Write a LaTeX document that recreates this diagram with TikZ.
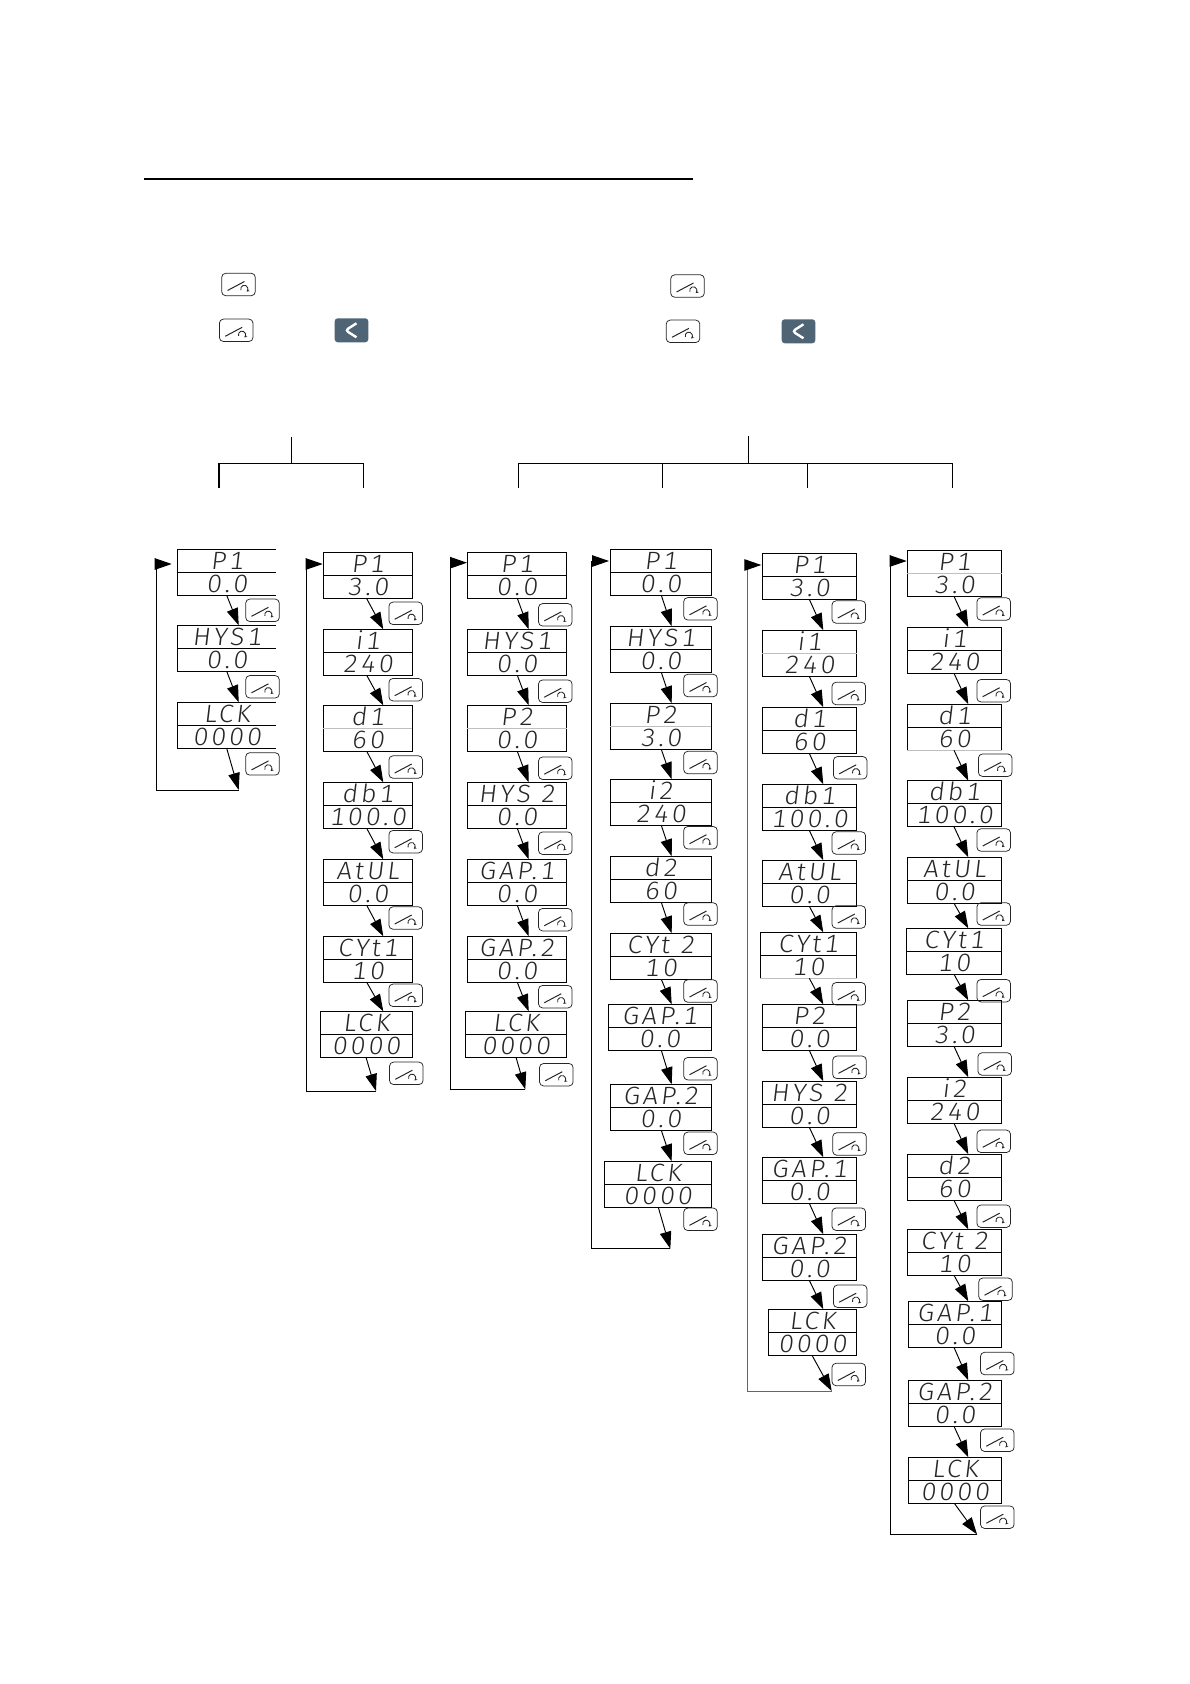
\documentclass[tikz,border=0pt]{standalone}
\usepackage{fontspec}
\newfontfamily\lcdfont[FakeSlant=0.12,FakeStretch=1.06,LetterSpace=12,Numbers=Monospaced]{Fira Sans Light}
\usepackage{xcolor}
\usetikzlibrary{arrows.meta,positioning}
\definecolor{keyslate}{HTML}{4F6475}
\tikzset{
  lcd/.style={draw, line width=0.85pt, inner sep=0pt, outer sep=0pt, minimum width=#1pt, minimum height=23pt,
    text height=17.2pt, text depth=0pt, text=black!85, font=\lcdfont\fontsize{25}{25}\selectfont},
  flow/.style={line width=0.95pt, -{Triangle[length=17pt,width=11.5pt]}},
  back/.style={line width=0.95pt},
  keybox/.style={draw=black!85, line width=0.75pt, rounded corners=4pt, inner sep=0pt,
    minimum width=33.6pt, minimum height=22.4pt,
    path picture={
      \draw[line width=1pt] ([shift={(-11pt,-6pt)}]path picture bounding box.center) -- +(17pt,9pt);
      \draw[line width=0.85pt,-{Stealth[length=2.8pt,width=3pt]}] ([shift={(2.4pt,-5.6pt)}]path picture bounding box.center)
        arc (200:-50:3.6pt);
    }},
  leftkey/.style={fill=keyslate, rounded corners=3pt, inner sep=0pt,
    minimum width=33.6pt, minimum height=24pt,
    path picture={
      \draw[white, line width=2.4pt] ([shift={(5pt,7pt)}]path picture bounding box.center)
        -- ([shift={(-6pt,0pt)}]path picture bounding box.center)
        -- ([shift={(5pt,-7pt)}]path picture bounding box.center);
    }},
  tree/.style={line width=0.8pt},
  treethick/.style={line width=1.5pt}
}
\begin{document}
\begin{tikzpicture}[x=1pt,y=-1pt]
\useasboundingbox (0,0) rectangle (1190,1684);
% heading rule
\coordinate (ruleL) at (144,179.4);
\coordinate (ruleR) at (693,179.4);
\draw[line width=2pt] (ruleL) -- (ruleR);
% keys in the legend
\node[keybox] (legA) at (238.5,284.5) {};
\node[keybox] (legB) at (687.5,286) {};
\node[keybox] (legC) at (236.2,330.3) {};
\node[leftkey] (legD) at (351.5,330.3) {};
\node[keybox] (legE) at (683,331.3) {};
\node[leftkey] (legF) at (798.5,331.3) {};
% brackets over the columns
\coordinate (lStem) at (291,437);
\coordinate (lJoin) at (291,463);
\coordinate (rStem) at (748.6,436);
\coordinate (rJoin) at (748.6,463);
\draw[tree] (lStem) -- (lJoin);
\draw[treethick] (rStem) -- (rJoin);
\draw[tree] (219,463) -- (363,463);
\draw[tree] (518.7,463) -- (952.6,463);
\foreach \x/\w in {219/treethick,363/tree,518.7/tree,662.7/tree,807.6/treethick,952.6/treethick}
  \draw[\w] (\x,463) -- (\x,487.6);
% displays: name/left/right/top/upper text/lower text
\foreach \name/\xa/\xb/\ytop/\txta/\txtb in {
  A1/177.3/276.7/549.3/P1/0.0, A2/177.3/276.7/625.3/HYS1/0.0, A3/177.3/276.7/702.3/LCK/0000,
  B1/323.3/412.3/552.7/P1/3.0, B2/323.3/412.3/629.3/i1/240, B3/323.3/412.3/705.3/d1/60,
  B4/323.3/412.3/782.3/db1/100.0, B5/323.3/412.3/859.3/AtUL/0.0, B6/323.3/412.3/936.3/CYt1/10,
  B7/320.3/412.3/1011.3/LCK/0000,
  C1/467.3/566.7/552.3/P1/0.0, C2/467.3/566.7/629.3/HYS1/0.0, C3/467.3/566.7/705.3/P2/0.0,
  C4/467.3/566.7/782.3/HYS 2/0.0, C5/467.3/566.7/859.3/GAP.1/0.0, C6/467.3/566.7/936.3/GAP.2/0.0,
  C7/465.3/566.7/1011.3/LCK/0000,
  D1/610.3/711.3/549.3/P1/0.0, D2/610.3/711.3/626.3/HYS1/0.0, D3/610.3/711.3/703.3/P2/3.0,
  D4/610.3/711.3/779.3/i2/240, D5/610.3/711.3/856.3/d2/60, D6/610.3/711.3/933.3/CYt 2/10,
  D7/608.3/711.3/1004.3/GAP.1/0.0, D8/610.3/711.3/1084.3/GAP.2/0.0, D9/604.3/711.3/1161.3/LCK/0000,
  E1/762.3/856.7/553.3/P1/3.0, E2/762.3/856.7/630.3/i1/240, E3/762.3/856.7/707.3/d1/60,
  E4/762.3/856.7/784.3/db1/100.0, E5/762.3/856.7/860.3/AtUL/0.0, E6/760/856.7/932.3/CYt1/10,
  E7/762.3/856.7/1004.3/P2/0.0, E8/762.3/856.7/1081.3/HYS 2/0.0, E9/762.3/856.7/1157.3/GAP.1/0.0,
  E10/762.3/856.7/1234.3/GAP.2/0.0, E11/768.3/856.7/1309.3/LCK/0000,
  F1/907.3/1001.7/550.3/P1/3.0, F2/907.3/1001.7/627.3/i1/240, F3/907.3/1001.7/704.3/d1/60,
  F4/907.3/1001.7/780.7/db1/100.0, F5/907.3/1001.7/857.3/AtUL/0.0, F6/906.3/1001.7/928.3/CYt1/10,
  F7/907.3/1001.7/1000.3/P2/3.0, F8/907.3/1001.7/1077.3/i2/240, F9/907.3/1001.7/1154.3/d2/60,
  F10/907.3/1001.7/1229.3/CYt 2/10, F11/908.3/1001.7/1301.3/GAP.1/0.0, F12/908.3/1001.7/1380.3/GAP.2/0.0,
  F13/908.3/1001.7/1457.3/LCK/0000} {
  \pgfmathsetmacro{\wid}{\xb-\xa}
  \node[lcd=\wid, anchor=north west] (\name t) at (\xa,\ytop) {\txta};
  \node[lcd=\wid, anchor=north west] (\name b) at (\name t.south west) {\txtb};
}
% first column has no right edge
\foreach \name in {A1,A2,A3}
  \draw[white, line width=2pt] ([yshift=2pt]\name t.north east) -- ([yshift=-2pt]\name b.south east);
% pale divider lines
\foreach \name in {B3,C3,D3,E2,F1} {
  \draw[white, line width=1.4pt] (\name t.south west) ++(1pt,0) -- ([xshift=-1pt]\name t.south east);
  \draw[black!25, line width=0.5pt] (\name t.south west) -- (\name t.south east);
}
\foreach \name in {F3,E6} {
  \draw[white, line width=1.4pt] (\name b.south west) -- (\name b.south east);
  \draw[black!25, line width=0.5pt] (\name b.south west) -- (\name b.south east);
}
% keys next to the displays
\foreach \name/\x/\y in {
  A1/262.5/610.3, A2/262.5/686.8, A3/262.5/763.9,
  B1/405.7/613.3, B2/405.7/689.7, B3/405.7/767, B4/405.7/841.7, B5/405.7/918, B6/405.7/995.3, B7/406.3/1073.3,
  C1/555.3/614.8, C2/555.3/691.2, C3/555.3/768.2, C4/555.3/843.2, C5/555.3/919.7, C6/555.3/996.7, C7/556.3/1074.7,
  D1/700.5/608.8, D2/700.5/685.5, D3/700.5/762.5, D4/700.5/837.7, D5/700.5/914, D6/700.5/991,
  D7/700.5/1068.7, D8/700.5/1143.3, D9/700.5/1219.3,
  E1/848.8/612, E2/848.8/693.5, E3/850.2/767.8, E4/848.8/843, E5/848.8/917, E6/848.8/993.8,
  E7/849.5/1067.3, E8/849.5/1144, E9/848.8/1219.2, E10/850.2/1296.2, E11/848.8/1374.5,
  F1/993.7/609, F2/993.7/690.7, F3/995.2/765.2, F4/993.7/840, F5/993.7/914, F6/993.7/990.7,
  F7/994.7/1064, F8/993.7/1141.3, F9/993.7/1216.2, F10/995.5/1289.2, F11/997.3/1363.5,
  F12/997.3/1440.2, F13/997.3/1517.2} {
  \node[keybox] (\name k) at (\x,\y) {};
}
% arrows inside the columns
\foreach \p/\q in {A1/A2,A2/A3}
  \draw[flow] ([xshift=-50pt]\p b.south east) -- ([xshift=-38pt]\q t.north east);
\foreach \p/\q in {B1/B2,B2/B3,B3/B4,B4/B5,B5/B6,B6/B7}
  \draw[flow] ([xshift=-45.6pt]\p b.south east) -- ([xshift=-29pt]\q t.north east);
\foreach \p/\q in {C1/C2,C2/C3,C3/C4,C4/C5,C5/C6,C6/C7}
  \draw[flow] ([xshift=-49.4pt]\p b.south east) -- ([xshift=-38pt]\q t.north east);
\foreach \p/\q in {D1/D2,D2/D3,D3/D4,D4/D5,D5/D6,D6/D7,D7/D8,D8/D9}
  \draw[flow] ([xshift=-50pt]\p b.south east) -- ([xshift=-39.6pt]\q t.north east);
\foreach \p/\q in {E1/E2,E2/E3,E3/E4,E4/E5,E5/E6,E6/E7,E7/E8,E8/E9,E9/E10,E10/E11}
  \draw[flow] ([xshift=-47.4pt]\p b.south east) -- ([xshift=-33.4pt]\q t.north east);
\foreach \p/\q in {F1/F2,F2/F3,F3/F4,F4/F5,F5/F6,F6/F7,F7/F8,F8/F9,F9/F10,F10/F11,F11/F12,F12/F13}
  \draw[flow] ([xshift=-47.7pt]\p b.south east) -- ([xshift=-33.4pt]\q t.north east);
% way back to the top of each column
\foreach \c/\last/\off/\endx/\endy/\leftx/\topy/\tipx/\shade in {
  A/A3/50/238.7/790/156.3/564/171.7/black,
  B/B7/46.3/376/1091/306.3/564/322.7/black,
  C/C7/50.7/525.3/1089.3/450.3/562.7/467/black,
  D/D9/53/670.3/1248.7/591.5/561/609/black,
  E/E11/44.7/831.7/1391/747.5/565/761.3/black!60,
  F/F13/47.4/977/1534.3/890.7/561/906.7/black} {
  \coordinate (\c turn) at (\endx,\endy);
  \coordinate (\c side) at (\leftx,\endy);
  \coordinate (\c rise) at (\leftx,\topy);
  \coordinate (\c tip) at (\tipx,\topy);
  \draw[back, draw=\shade] (\c turn) -- (\c side) -- (\c rise);
  \draw[flow] (\c rise) -- (\c tip);
  \draw[flow] ([xshift=-\off pt]\last b.south east) -- (\c turn);
}
\end{tikzpicture}
\end{document}
